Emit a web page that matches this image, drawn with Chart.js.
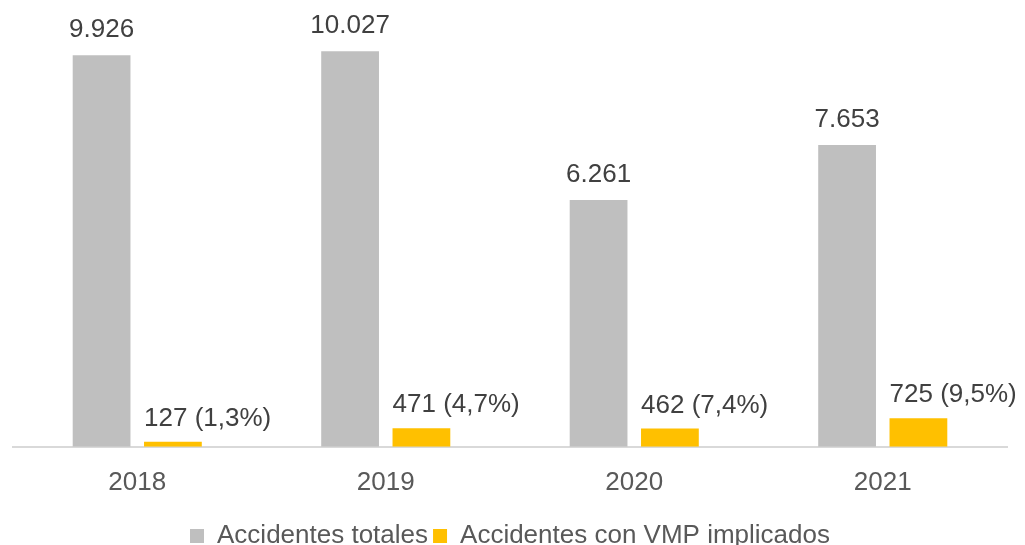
<!DOCTYPE html>
<html>
<head>
<meta charset="utf-8">
<script src="https://cdn.jsdelivr.net/npm/chart.js@4.4.0/dist/chart.umd.min.js"></script>
<style>
  html, body { margin: 0; padding: 0; background: #fff; }
  #wrap { width: 1025px; height: 545px; }
</style>
</head>
<body>
<div id="wrap"><canvas id="C"></canvas></div>
<script>
const years = ["2018", "2019", "2020", "2021"];
const totales = [9926, 10027, 6261, 7653];
const conVMP = [127, 471, 462, 725];
const seriesNames = ["Accidentes totales", "Accidentes con VMP implicados"];

const thousands = v => String(v).replace(/\B(?=(\d{3})+(?!\d))/g, ".");

// etiquetas de valor encima de cada barra
const valueLabels = {
  id: "valueLabels",
  afterDatasetsDraw(chart) {
    const ctx = chart.ctx;
    ctx.save();
    ctx.font = "26px 'Liberation Sans', Arial, sans-serif";
    ctx.fillStyle = "#404040";
    ctx.textBaseline = "alphabetic";
    chart.getDatasetMeta(0).data.forEach((bar, i) => {
      ctx.textAlign = "center";
      ctx.fillText(thousands(totales[i]), bar.x, bar.y - 18);
    });
    chart.getDatasetMeta(1).data.forEach((bar, i) => {
      const pct = (conVMP[i] / totales[i] * 100).toFixed(1).replace(".", ",");
      ctx.textAlign = "left";
      ctx.fillText(conVMP[i] + " (" + pct + "%)", bar.x - bar.width / 2, bar.y - 16);
    });
    ctx.restore();
  }
};

let chart = new Chart(document.getElementById("C").getContext("2d"), {
  type: "bar",
  data: {
    labels: years,
    datasets: [
      {
        label: seriesNames[0],
        data: totales,
        backgroundColor: "#BFBFBF",
        categoryPercentage: 0.574,
        barPercentage: 0.81,
      },
      {
        label: seriesNames[1],
        data: conVMP,
        backgroundColor: "#FFC000",
        categoryPercentage: 0.574,
        barPercentage: 0.81,
      },
    ],
  },
  options: {
    responsive: true,
    maintainAspectRatio: false,
    animation: false,
    layout: { padding: { left: 13, right: 18, top: 13, bottom: -14 } },
    scales: {
      x: {
        grid: { display: false, drawTicks: false },
        border: { color: "#D9D9D9", width: 2 },
        ticks: {
          padding: 20,
          color: "#595959",
          font: { family: "'Liberation Sans', Arial, sans-serif", size: 26 }
        }
      },
      y: {
        display: false,
        min: 0,
        max: 11000
      }
    },
    plugins: {
      tooltip: { enabled: false },
      legend: {
        position: "bottom",
        labels: {
          boxWidth: 14,
          boxHeight: 14,
          padding: 5,
          color: "#595959",
          font: { family: "'Liberation Sans', Arial, sans-serif", size: 26 }
        }
      }
    }
  },
  plugins: [valueLabels]
});
</script>
</body>
</html>
